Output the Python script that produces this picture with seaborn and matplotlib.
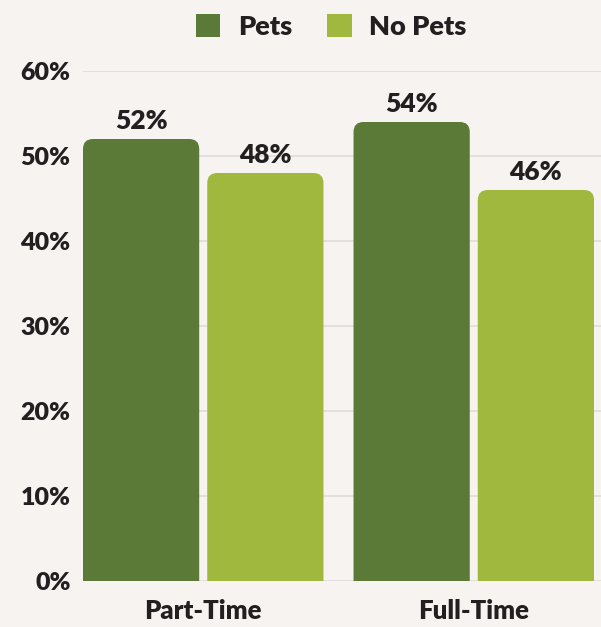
import matplotlib
matplotlib.use("Agg")
import matplotlib.pyplot as plt
import seaborn as sns
import pandas as pd
from matplotlib.patches import FancyBboxPatch, Patch

categories = ["Part-Time", "Full-Time"]
groups = ["Pets", "No Pets"]
pets = [52, 54]
no_pets = [48, 46]
yticks = [0, 10, 20, 30, 40, 50, 60]

df = pd.DataFrame({
    "category": categories * 2,
    "group": ["Pets"] * 2 + ["No Pets"] * 2,
    "value": pets + no_pets,
})

BG = "#f7f3f0"
TXT = "#231f20"
colors = {"Pets": "#5c7a37", "No Pets": "#9fb83d"}
W = "heavy"

sns.set_theme(style="white")
plt.rcParams["font.family"] = ["Lato", "DejaVu Sans"]

fig = plt.figure(figsize=(6.01, 6.27), dpi=100, facecolor=BG)
ax_left, ax_w = 83 / 601, 518 / 601
ax = fig.add_axes([ax_left, 46 / 627, ax_w, 510 / 627])
ax.set_facecolor(BG)

sns.barplot(data=df, x="category", y="value", hue="group", order=categories,
            hue_order=groups, palette=colors, width=0.9185, gap=0.0645,
            saturation=1, ax=ax, legend=False, errorbar=None)

ax.set_ylim(0, 60)
bars = list(ax.patches)
bl = min(p.get_x() for p in bars)
br = max(p.get_x() + p.get_width() for p in bars)
ax.set_xlim(bl, bl + (br - bl) * 518 / 511)
ax.set_yticks(yticks)
ax.set_yticklabels([f"{t}%" for t in yticks])
for t in yticks:
    ax.axhline(t, color="#e3dfdf", lw=1.4, zorder=0)

fig.canvas.draw()
p0 = ax.transData.transform((0, 0))
p1 = ax.transData.transform((1, 1))
px_x = p1[0] - p0[0]
px_y = p1[1] - p0[1]
r = 10 / px_x
aspect = px_x / px_y

for p in bars:
    x, w, h = p.get_x(), p.get_width(), p.get_height()
    fc = p.get_facecolor()
    p.set_visible(False)
    ext = 3
    fb = FancyBboxPatch((x, -ext), w, h + ext,
                        boxstyle=f"round,pad=0,rounding_size={r}",
                        mutation_aspect=aspect, facecolor=fc, edgecolor="none",
                        zorder=2)
    ax.add_patch(fb)
    ax.annotate(f"{h:.0f}%", (x + w / 2, h), xytext=(0, 7),
                textcoords="offset points", ha="center", va="baseline",
                fontsize=19, fontweight=W, color=TXT)

ax.set_xlabel("")
ax.set_ylabel("")
for s in ax.spines.values():
    s.set_visible(False)
ax.tick_params(axis="y", length=0, pad=9, labelsize=18, labelcolor=TXT)
ax.tick_params(axis="x", length=0, pad=13, labelsize=18.5, labelcolor=TXT)
for lab in ax.get_xticklabels() + ax.get_yticklabels():
    lab.set_fontweight(W)

handles = [Patch(facecolor=colors[g], edgecolor="none") for g in groups]
leg = fig.legend(handles, groups, loc="center", bbox_to_anchor=(0.551, 0.958),
                 ncol=2, frameon=False, handlelength=0.9, handleheight=0.9,
                 handletextpad=0.65, columnspacing=1.3,
                 prop={"weight": W, "size": 19.5})
for t in leg.get_texts():
    t.set_color(TXT)

fig.savefig("out.png", dpi=100, facecolor=BG)
